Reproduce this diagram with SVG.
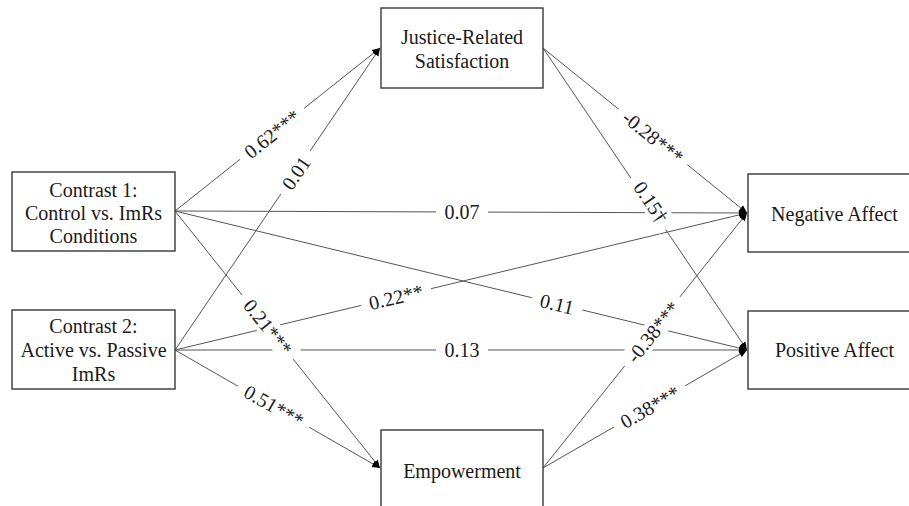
<svg xmlns="http://www.w3.org/2000/svg" width="909" height="506" viewBox="0 0 909 506">
<style>
.box{fill:#fff;stroke:#444;stroke-width:1.5}
.nt{font-size:20px;fill:#1a1a1a;text-anchor:middle}
.ln{stroke:#555;stroke-width:1;fill:none}
.lt{font-size:20px;fill:#1a1a1a;text-anchor:middle}
.bg{fill:#fff}
</style>
<defs>
<marker id="ah" markerUnits="userSpaceOnUse" markerWidth="9" markerHeight="8" refX="8" refY="4" orient="auto">
<path d="M0,0.5 L8,4 L0,7.5 z" fill="#000"/>
</marker>
</defs>
<rect width="909" height="506" fill="#fff"/>
<g font-family="Liberation Serif, Times New Roman, Times, serif">
<g id="connectors">
<line class="ln" x1="175" y1="211" x2="380" y2="48" marker-end="url(#ah)"/>
<line class="ln" x1="175" y1="350" x2="380" y2="48" marker-end="url(#ah)"/>
<line class="ln" x1="175" y1="211" x2="747" y2="213" marker-end="url(#ah)"/>
<line class="ln" x1="175" y1="211" x2="747" y2="350" marker-end="url(#ah)"/>
<line class="ln" x1="175" y1="211" x2="380" y2="468" marker-end="url(#ah)"/>
<line class="ln" x1="175" y1="350" x2="747" y2="213" marker-end="url(#ah)"/>
<line class="ln" x1="175" y1="350" x2="747" y2="350" marker-end="url(#ah)"/>
<line class="ln" x1="175" y1="350" x2="380" y2="468" marker-end="url(#ah)"/>
<line class="ln" x1="543" y1="48" x2="747" y2="213" marker-end="url(#ah)"/>
<line class="ln" x1="543" y1="48" x2="747" y2="350" marker-end="url(#ah)"/>
<line class="ln" x1="543" y1="468" x2="747" y2="213" marker-end="url(#ah)"/>
<line class="ln" x1="543" y1="468" x2="747" y2="350" marker-end="url(#ah)"/>
<g transform="translate(272,134) rotate(-38.4)"><rect class="bg" x="-41" y="-11" width="82" height="22"/><text class="lt" y="7">0.62***</text></g>
<g transform="translate(296,173) rotate(-55.7)"><rect class="bg" x="-26" y="-11" width="52" height="22"/><text class="lt" y="7">0.01</text></g>
<g transform="translate(462,212)"><rect class="bg" x="-26" y="-11" width="52" height="22"/><text class="lt" y="7">0.07</text></g>
<g transform="translate(268,327) rotate(51.3)"><rect class="bg" x="-41" y="-11" width="82" height="22"/><text class="lt" y="7">0.21***</text></g>
<g transform="translate(274,406) rotate(29.8)"><rect class="bg" x="-41" y="-11" width="82" height="22"/><text class="lt" y="7">0.51***</text></g>
<g transform="translate(396,297) rotate(-13.4)"><rect class="bg" x="-36" y="-11" width="72" height="22"/><text class="lt" y="7">0.22**</text></g>
<g transform="translate(462,350)"><rect class="bg" x="-26" y="-11" width="52" height="22"/><text class="lt" y="7">0.13</text></g>
<g transform="translate(557,304) rotate(13.6)"><rect class="bg" x="-26" y="-11" width="52" height="22"/><text class="lt" y="7">0.11</text></g>
<g transform="translate(653,137) rotate(38.8)"><rect class="bg" x="-44" y="-11" width="88" height="22"/><text class="lt" y="7">-0.28***</text></g>
<g transform="translate(651,202) rotate(55.8)"><rect class="bg" x="-31" y="-11" width="62" height="22"/><text class="lt" y="7">0.15†</text></g>
<g transform="translate(653,332) rotate(-51.2)"><rect class="bg" x="-44" y="-11" width="88" height="22"/><text class="lt" y="7">-0.38***</text></g>
<g transform="translate(650,407) rotate(-29.9)"><rect class="bg" x="-41" y="-11" width="82" height="22"/><text class="lt" y="7">0.38***</text></g>
</g>
<g id="contrast1">
<rect class="box" x="12" y="172" width="163" height="79"/>
<text class="nt" x="93.5" y="197">Contrast 1:</text>
<text class="nt" x="93.5" y="220">Control vs. ImRs</text>
<text class="nt" x="93.5" y="243">Conditions</text>
</g>
<g id="contrast2">
<rect class="box" x="12" y="310" width="163" height="79"/>
<text class="nt" x="93.5" y="333">Contrast 2:</text>
<text class="nt" x="93.5" y="357">Active vs. Passive</text>
<text class="nt" x="93.5" y="381">ImRs</text>
</g>
<g id="justice">
<rect class="box" x="381" y="8" width="162" height="80"/>
<text class="nt" x="462" y="44">Justice-Related</text>
<text class="nt" x="462" y="68">Satisfaction</text>
</g>
<g id="empowerment">
<rect class="box" x="381" y="430" width="162" height="80"/>
<text class="nt" x="462" y="478">Empowerment</text>
</g>
<g id="negative">
<rect class="box" x="748" y="174" width="170" height="78"/>
<text class="nt" x="834.5" y="221">Negative Affect</text>
</g>
<g id="positive">
<rect class="box" x="748" y="311" width="170" height="78"/>
<text class="nt" x="834.5" y="357">Positive Affect</text>
</g>
</g>
</svg>
